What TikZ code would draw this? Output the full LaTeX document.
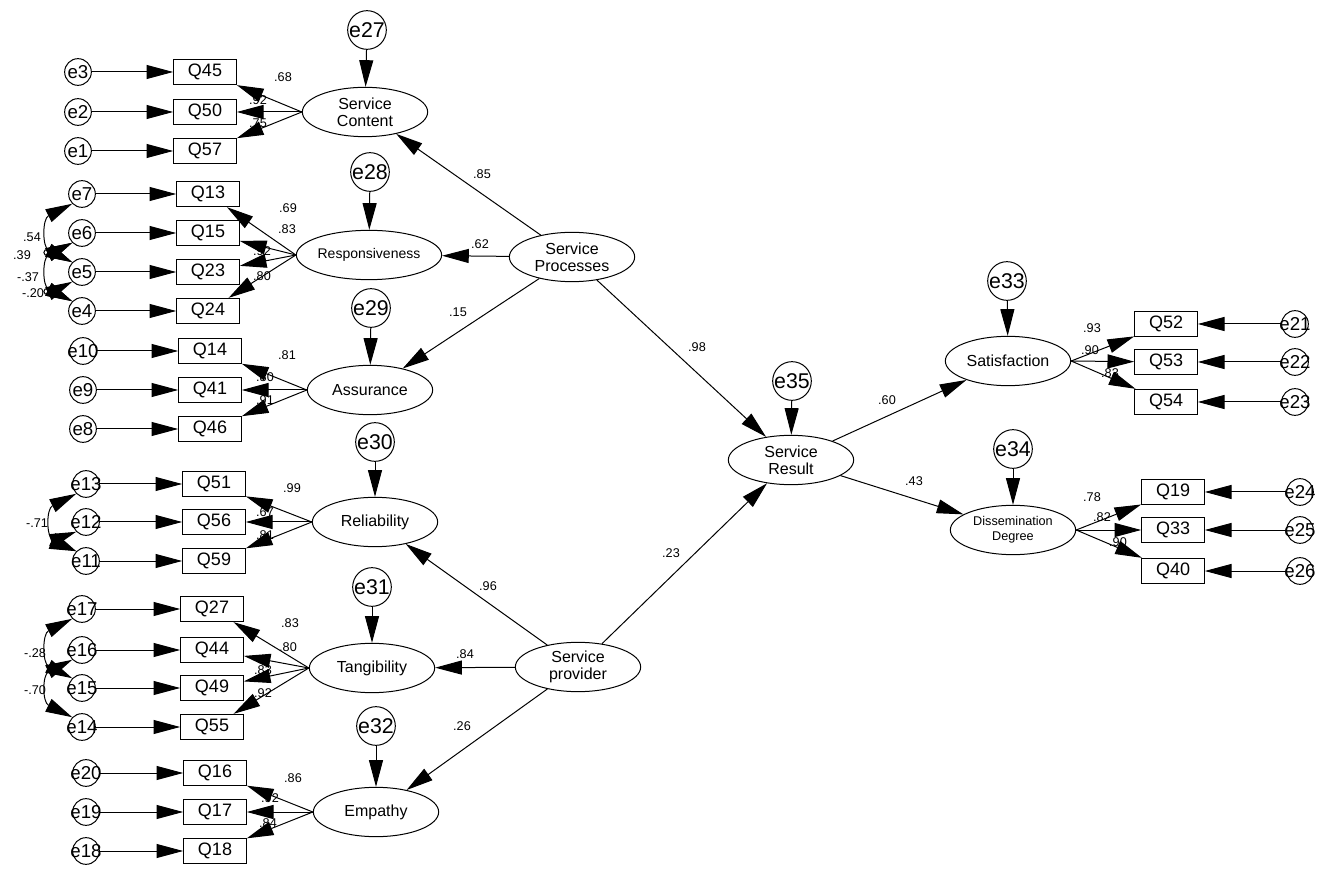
\documentclass[tikz,border=0pt]{standalone}
\usepackage{fontspec}
\setmainfont{Liberation Sans}
\usetikzlibrary{
	positioning,
	arrows.meta,
	shapes.geometric,
	calc}
\tikzset{
	SEM diagram/.style={
		x=0.75pt, y=-0.75pt,
		line width=0.75pt,
		>={Triangle[length=20pt, width=10.5pt]},
		},
	latent/.style={
		ellipse,
		draw,
		inner sep=0pt,
		minimum width=94pt,
		minimum height=37pt,
		align=center,
		font=\fontsize{12}{13}\selectfont
	},
	item/.style={
		rectangle,
		draw,
		inner sep=0pt,
		minimum width=47pt,
		minimum height=19pt,
		font=\fontsize{13.5}{14}\selectfont
	},
	error/.style={
		circle,
		draw,
		inner sep=0pt,
		minimum size=20pt,
		font=\fontsize{14}{14}\selectfont
	},
	disturbance/.style={
		error,
		minimum size=29pt,
		font=\fontsize{16}{16}\selectfont
	},
	coef/.style={
		inner sep=0pt,
		font=\fontsize{9.5}{9.5}\selectfont
	},
	cov/.style={<->},
}
\begin{document}
\begin{tikzpicture}[SEM diagram]
	\useasboundingbox (0,0) rectangle (1325,873);
	\node[latent] (SC) at (365,112) {Service\\Content};
	\node[latent, font=\fontsize{10.5}{11}\selectfont] (Resp) at (369,255) {Responsiveness};
	\node[latent] (Ass) at (370,390) {Assurance};
	\node[latent] (Rel) at (375,522) {Reliability};
	\node[latent] (Tang) at (372,668) {Tangibility};
	\node[latent] (Emp) at (376,812) {Empathy};
	\node[latent] (SP) at (572,257) {Service\\Processes};
	\node[latent] (SProv) at (578,667) {Service\\provider};
	\node[latent] (SR) at (791,460) {Service\\Result};
	\node[latent] (Sat) at (1008,361) {Satisfaction};
	\node[latent, font=\fontsize{9.5}{11}\selectfont] (Diss) at (1013,530) {Dissemination\\Degree};
	\foreach \d/\f/\x/\y in {e27/SC/367/30, e28/Resp/370/172, e29/Ass/371/308, e30/Rel/375/442, e31/Tang/372/587, e32/Emp/376/726, e35/SR/792/381, e33/Sat/1007/281, e34/Diss/1013/449}{
		\node[disturbance] (\d) at (\x,\y) {\makebox[0pt]{\d}};
		\draw[->] (\d) -- (\f);
	}
	\foreach \q/\e/\y/\lx/\ly/\v in {Q45/e3/72/283/77/.68, Q50/e2/112/258/100/.92, Q57/e1/151/258/123/.75}{
		\node[item] (\q) at (205,\y) {\q};
		\node[error] (\e) at (78,\y) {\makebox[0pt]{\e}};
		\draw[->] (\e) -- (\q);
		\draw[->] (SC.west) -- (\q);
		\node[coef] (c\q) at (\lx,\ly) {\v};
	}
	\foreach \q/\e/\y/\lx/\ly/\v in {Q13/e7/194/288/208/.69, Q15/e6/233/287/229/.83, Q23/e5/272/262/251/.92, Q24/e4/311/262/276/.80}{
		\node[item] (\q) at (208,\y) {\q};
		\node[error] (\e) at (82,\y) {\makebox[0pt]{\e}};
		\draw[->] (\e) -- (\q);
		\draw[->] (Resp.west) -- (\q);
		\node[coef] (c\q) at (\lx,\ly) {\v};
	}
	\foreach \q/\e/\y/\lx/\ly/\v in {Q14/e10/351/287/355/.81, Q41/e9/390/265/377/.80, Q46/e8/429/265/400/.91}{
		\node[item] (\q) at (210,\y) {\q};
		\node[error] (\e) at (83,\y) {\makebox[0pt]{\e}};
		\draw[->] (\e) -- (\q);
		\draw[->] (Ass.west) -- (\q);
		\node[coef] (c\q) at (\lx,\ly) {\v};
	}
	\foreach \q/\e/\y/\lx/\ly/\v in {Q51/e13/484/292/488/.99, Q56/e12/522/265/512/.67, Q59/e11/561/265/535/.81}{
		\node[item] (\q) at (214,\y) {\q};
		\node[error] (\e) at (86,\y) {\makebox[0pt]{\e}};
		\draw[->] (\e) -- (\q);
		\draw[->] (Rel.west) -- (\q);
		\node[coef] (c\q) at (\lx,\ly) {\v};
	}
	\foreach \q/\e/\y/\lx/\ly/\v in {Q27/e17/609/290/623/.83, Q44/e16/650/288/647/.80, Q49/e15/688/263/670/.83, Q55/e14/727/263/693/.92}{
		\node[item] (\q) at (212,\y) {\q};
		\node[error] (\e) at (82,\y) {\makebox[0pt]{\e}};
		\draw[->] (\e) -- (\q);
		\draw[->] (Tang.west) -- (\q);
		\node[coef] (c\q) at (\lx,\ly) {\v};
	}
	\foreach \q/\e/\y/\lx/\ly/\v in {Q16/e20/773/293/778/.86, Q17/e19/812/270/798/.92, Q18/e18/851/268/823/.84}{
		\node[item] (\q) at (215,\y) {\q};
		\node[error] (\e) at (86,\y) {\makebox[0pt]{\e}};
		\draw[->] (\e) -- (\q);
		\draw[->] (Emp.west) -- (\q);
		\node[coef] (c\q) at (\lx,\ly) {\v};
	}
	\foreach \q/\e/\y/\lx/\ly/\v in {Q52/e21/324/1092/328/.93, Q53/e22/362/1090/350/.90, Q54/e23/402/1110/373/.83}{
		\node[item] (\q) at (1166,\y) {\q};
		\node[error] (\e) at (1295,\y) {\makebox[0pt]{\e}};
		\draw[->] (\e) -- (\q);
		\draw[->] (Sat.east) -- (\q);
		\node[coef] (c\q) at (\lx,\ly) {\v};
	}
	\foreach \q/\e/\y/\lx/\ly/\v in {Q19/e24/492/1092/497/.78, Q33/e25/530/1102/517/.82, Q40/e26/571/1118/542/.90}{
		\node[item] (\q) at (1173,\y) {\q};
		\node[error] (\e) at (1300,\y) {\makebox[0pt]{\e}};
		\draw[->] (\e) -- (\q);
		\draw[->] (Diss.east) -- (\q);
		\node[coef] (c\q) at (\lx,\ly) {\v};
	}
	\foreach \a/\b/\x/\y/\v in {SP/SC/482/174/.85, SP/Resp/480/244/.62, SP/Ass/458/312/.15, SP/SR/697/347/.98, SProv/Rel/488/586/.96, SProv/Tang/465/654/.84, SProv/Emp/462/726/.26, SProv/SR/671/553/.23, SR/Sat/887/400/.60, SR/Diss/914/481/.43}{
		\draw[->] (\a) -- (\b);
		\node[coef] (p\a\b) at (\x,\y) {\v};
	}
	\foreach \a/\b/\x/\y/\v in {e7/e5/32/237/.54, e6/e5/22/255/.39, e6/e4/28/277/-.37, e5/e4/33/293/-.20, e13/e11/37/523/-.71, e17/e15/35/653/-.28, e16/e14/35/690/-.70}{
		\draw[cov] (\a.south west) .. controls +(-30,15) and +(-30,-15) .. (\b.north west);
		\node[coef] (c\a\b) at (\x,\y) {\v};
	}
	\draw[cov] (e12.south west) .. controls +(-22,8) and +(-22,-8) .. (e11.north west);
\end{tikzpicture}
\end{document}
